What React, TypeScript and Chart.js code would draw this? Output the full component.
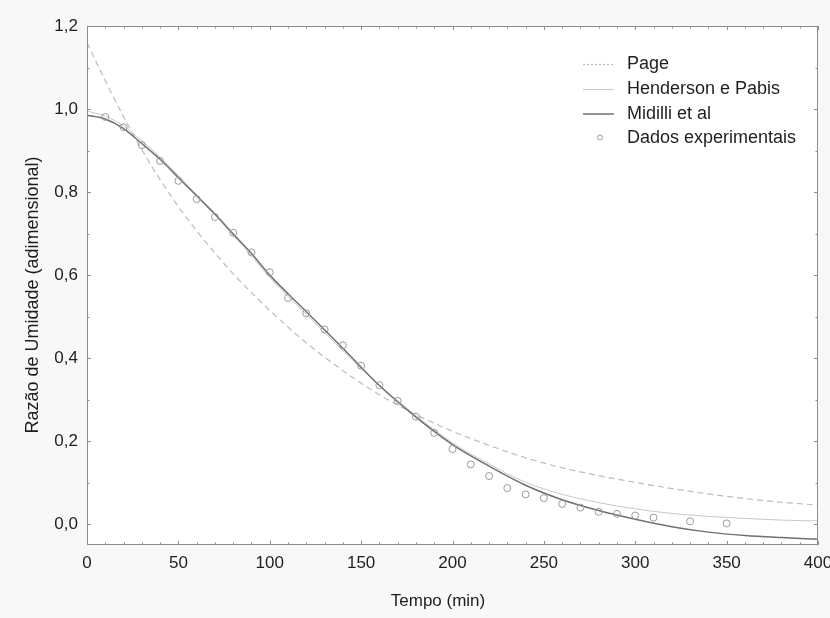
import React, { useEffect, useRef } from "react";
import { Chart, registerables } from "chart.js";

Chart.register(...registerables);

// Experimental data (Dados experimentais)
const dataTimes = [10, 20, 30, 40, 50, 60, 70, 80, 90, 100, 110, 120, 130, 140, 150, 160, 170, 180, 190, 200, 210, 220, 230, 240, 250, 260, 270, 280, 290, 300, 310, 330, 350];
const dataValues = [0.981, 0.956, 0.913, 0.875, 0.827, 0.783, 0.740, 0.702, 0.655, 0.607, 0.545, 0.508, 0.469, 0.431, 0.382, 0.335, 0.297, 0.259, 0.220, 0.181, 0.144, 0.116, 0.087, 0.072, 0.063, 0.049, 0.040, 0.030, 0.025, 0.021, 0.016, 0.007, 0.002];

// Model curves
const curveTimes = [0, 10, 20, 30, 40, 50, 60, 70, 80, 90, 100, 120, 140, 160, 180, 200, 220, 240, 260, 280, 300, 320, 340, 360, 380, 400];
const pageValues = [1.160, 1.068, 0.982, 0.902, 0.830, 0.765, 0.707, 0.653, 0.603, 0.558, 0.515, 0.437, 0.370, 0.312, 0.264, 0.224, 0.190, 0.160, 0.136, 0.117, 0.101, 0.086, 0.073, 0.062, 0.053, 0.046];
const hendersonValues = [0.995, 0.983, 0.959, 0.924, 0.884, 0.840, 0.793, 0.745, 0.696, 0.646, 0.594, 0.505, 0.418, 0.335, 0.262, 0.196, 0.145, 0.101, 0.072, 0.052, 0.037, 0.026, 0.019, 0.014, 0.010, 0.008];
const midilliValues = [0.985, 0.976, 0.953, 0.917, 0.879, 0.835, 0.791, 0.747, 0.699, 0.652, 0.600, 0.512, 0.424, 0.334, 0.258, 0.192, 0.140, 0.094, 0.059, 0.033, 0.012, -0.006, -0.019, -0.027, -0.032, -0.036];

const xTickValues = [0, 50, 100, 150, 200, 250, 300, 350, 400];
const yTickValues = [0.0, 0.2, 0.4, 0.6, 0.8, 1.0, 1.2];

const seriesLabels = ["Page", "Henderson e Pabis", "Midilli et al", "Dados experimentais"];
const xTitle = "Tempo (min)";
const yTitle = "Razão de Umidade (adimensional)";

const FONT = "'Liberation Sans', Arial, Helvetica, sans-serif";
const TEXT = "#1e1e1e";
const AXIS = "#8c8c8c";
const C_DATA = "#9a9a9a";
const C_MID = "#707070";
const C_HP = "#c8c8c8";
const C_PAGE = "#bcbcbc";

const decorPlugin = {
  id: "decor",
  beforeDraw(chart: any) {
    const { ctx, chartArea: a, width, height } = chart;
    ctx.save();
    ctx.fillStyle = "#f8f8f8";
    ctx.fillRect(0, 0, width, height);
    ctx.fillStyle = "#ffffff";
    ctx.fillRect(a.left, a.top, a.right - a.left, a.bottom - a.top);
    ctx.restore();
  },
  afterDatasetsDraw(chart: any) {
    const { ctx, chartArea: a } = chart;
    const xs = chart.scales.x;
    const ys = chart.scales.y;
    ctx.save();
    // frame
    ctx.strokeStyle = AXIS;
    ctx.lineWidth = 1;
    ctx.strokeRect(a.left + 0.5, a.top + 0.5, a.right - a.left - 1, a.bottom - a.top - 1);
    // ticks
    ctx.beginPath();
    for (let v = xs.min; v <= xs.max + 1e-9; v += 10) {
      const px = Math.round(xs.getPixelForValue(v)) + 0.5;
      const major = xTickValues.some((t) => Math.abs(t - v) < 1e-6);
      const len = major ? 4 : 2.5;
      ctx.moveTo(px, a.bottom);
      ctx.lineTo(px, a.bottom - len);
      ctx.moveTo(px, a.top);
      ctx.lineTo(px, a.top + len);
    }
    for (let k = 0; k <= 12; k++) {
      const v = k / 10;
      const py = Math.round(ys.getPixelForValue(v)) + 0.5;
      const len = k % 2 === 0 ? 4 : 2.5;
      ctx.moveTo(a.left, py);
      ctx.lineTo(a.left + len, py);
      ctx.moveTo(a.right, py);
      ctx.lineTo(a.right - len, py);
    }
    ctx.stroke();

    // axis titles
    ctx.fillStyle = TEXT;
    ctx.font = `17px ${FONT}`;
    ctx.textAlign = "center";
    ctx.textBaseline = "middle";
    ctx.fillText(xTitle, 438, 601);
    ctx.save();
    ctx.translate(33, 295);
    ctx.rotate(-Math.PI / 2);
    ctx.font = `18px ${FONT}`;
    ctx.fillText(yTitle, 0, 0);
    ctx.restore();

    // legend
    const rows = [64.5, 89.5, 114, 138.5];
    const x0 = 583, x1 = 614, tx = 627;
    ctx.textAlign = "left";
    ctx.font = `18px ${FONT}`;
    // Page (dotted)
    ctx.strokeStyle = C_PAGE;
    ctx.lineWidth = 1.2;
    ctx.setLineDash([2, 2]);
    ctx.beginPath();
    ctx.moveTo(x0, rows[0]);
    ctx.lineTo(x1, rows[0]);
    ctx.stroke();
    ctx.setLineDash([]);
    // Henderson
    ctx.strokeStyle = C_HP;
    ctx.lineWidth = 1;
    ctx.beginPath();
    ctx.moveTo(x0, rows[1]);
    ctx.lineTo(x1, rows[1]);
    ctx.stroke();
    // Midilli
    ctx.strokeStyle = C_MID;
    ctx.lineWidth = 1.5;
    ctx.beginPath();
    ctx.moveTo(x0, rows[2]);
    ctx.lineTo(x1, rows[2]);
    ctx.stroke();
    // data marker
    ctx.strokeStyle = C_DATA;
    ctx.lineWidth = 1;
    ctx.beginPath();
    ctx.arc(600, rows[3] - 1, 2.5, 0, Math.PI * 2);
    ctx.stroke();
    ctx.fillStyle = TEXT;
    seriesLabels.forEach((lab, i) => ctx.fillText(lab, tx, rows[i]));
    ctx.restore();
  },
};

export default function App() {
  const ref = useRef<HTMLCanvasElement | null>(null);

  useEffect(() => {
    if (!ref.current) return;
    const toPts = (xs: number[], ys: number[]) => xs.map((x, i) => ({ x, y: ys[i] }));
    const chart = new Chart(ref.current, {
      type: "scatter",
      data: {
        datasets: [
          {
            label: seriesLabels[3],
            data: toPts(dataTimes, dataValues),
            showLine: false,
            pointStyle: "circle",
            pointRadius: 3.5,
            pointBorderWidth: 1,
            borderColor: C_DATA,
            backgroundColor: "rgba(255,255,255,0)",
          },
          {
            label: seriesLabels[2],
            data: toPts(curveTimes, midilliValues),
            showLine: true,
            pointRadius: 0,
            borderColor: C_MID,
            borderWidth: 1.5,
            cubicInterpolationMode: "monotone",
          },
          {
            label: seriesLabels[1],
            data: toPts(curveTimes, hendersonValues),
            showLine: true,
            pointRadius: 0,
            borderColor: C_HP,
            borderWidth: 1,
            cubicInterpolationMode: "monotone",
          },
          {
            label: seriesLabels[0],
            data: toPts(curveTimes, pageValues),
            showLine: true,
            pointRadius: 0,
            borderColor: C_PAGE,
            borderWidth: 1.2,
            borderDash: [6, 4],
            cubicInterpolationMode: "monotone",
          },
        ],
      } as any,
      options: {
        animation: false,
        responsive: false,
        events: [],
        layout: { padding: { left: 0, right: 12, top: 26, bottom: 0 } },
        plugins: { legend: { display: false }, tooltip: { enabled: false } },
        scales: {
          x: {
            type: "linear",
            min: 0,
            max: 400,
            afterBuildTicks: (s: any) => {
              s.ticks = xTickValues.map((v) => ({ value: v }));
            },
            afterFit: (s: any) => {
              s.height = 73;
              s.paddingLeft = 0;
              s.paddingRight = 0;
            },
            grid: { display: false, drawTicks: false },
            border: { display: false },
            ticks: {
              font: { family: FONT, size: 17 },
              color: TEXT,
              padding: 8,
              maxRotation: 0,
              autoSkip: false,
            },
          },
          y: {
            type: "linear",
            min: -0.05,
            max: 1.2,
            afterBuildTicks: (s: any) => {
              s.ticks = yTickValues.map((v) => ({ value: v }));
            },
            afterFit: (s: any) => {
              s.width = 87;
              s.paddingTop = 0;
              s.paddingBottom = 0;
            },
            grid: { display: false, drawTicks: false },
            border: { display: false },
            ticks: {
              font: { family: FONT, size: 17 },
              color: TEXT,
              padding: 9,
              autoSkip: false,
              callback: (v: any) => Number(v).toFixed(1).replace(".", ","),
            },
          },
        },
      } as any,
      plugins: [decorPlugin],
    });
    return () => chart.destroy();
  }, []);

  return (
    <div style={{ position: "fixed", left: 0, top: 0, width: 830, height: 618 }}>
      <canvas ref={ref} width={830} height={618} style={{ display: "block" }} />
    </div>
  );
}
